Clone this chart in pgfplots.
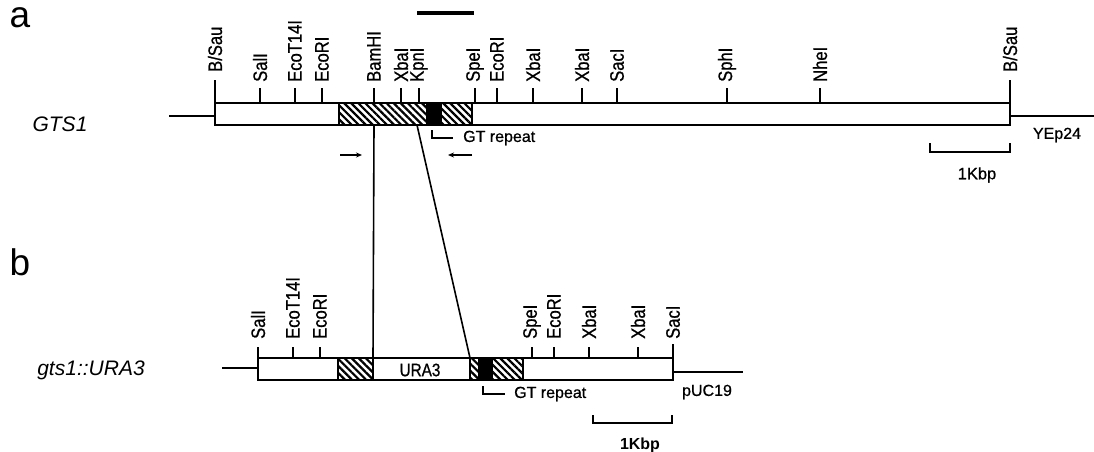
\documentclass[border=0pt]{standalone}
\usepackage{pgfplots}
\pgfplotsset{compat=1.18}
\usetikzlibrary{patterns.meta,arrows.meta}
\usepackage{fontspec}
\setmainfont{Liberation Sans}
\newfontfamily\cond[FakeStretch=0.85,FakeBold=0.8]{Liberation Sans}
\newfontfamily\med[FakeBold=0.7]{Liberation Sans}
\newcommand\sz[1]{\fontsize{#1}{#1}\selectfont}
\tikzset{
  site/.style={rotate=90,anchor=west,inner sep=0pt,font=\cond\sz{19.5}},
  hatch/.style={draw=black,line width=1.7pt,pattern={Lines[angle=-45,distance=5pt,line width=2.2pt]}},
}
\newcommand\site[3]{\node[site] at (axis cs:#1,#2) {#3};}
\begin{document}
\begin{tikzpicture}
\begin{axis}[width=1094pt,height=452pt,scale only axis,
  xmin=0,xmax=1094,ymin=0,ymax=452,y dir=reverse,hide axis,clip=false,
  unbounded coords=jump]
% ---------------- map a ----------------
\addplot[black,line width=1.7pt] coordinates {(169,116) (215,116)};
\addplot[black,line width=1.7pt] coordinates {(1010,116) (1094,116)};
\addplot[draw=black,fill=white,line width=1.7pt] coordinates {(215,103) (1010,103) (1010,125) (215,125)} -- cycle;
\addplot[hatch] coordinates {(339,103) (427,103) (427,125) (339,125)} -- cycle;
\addplot[draw=black,fill=black,line width=1.7pt] coordinates {(427,103) (441,103) (441,125) (427,125)} -- cycle;
\addplot[hatch] coordinates {(441,103) (472,103) (472,125) (441,125)} -- cycle;
\addplot[black,line width=2.2pt] coordinates {
 (260,88) (260,103) (0,nan) (295,88) (295,103) (0,nan) (322,88) (322,103) (0,nan)
 (374,88) (374,103) (0,nan) (401,88) (401,103) (0,nan) (419,88) (419,103) (0,nan)
 (475,88) (475,103) (0,nan) (497,88) (497,103) (0,nan) (533,88) (533,103) (0,nan)
 (582,88) (582,103) (0,nan) (617,88) (617,103) (0,nan) (727,88) (727,103) (0,nan)
 (820,88) (820,103) (0,nan) (215,80) (215,103) (0,nan) (1010,80) (1010,103)};
\site{215}{72}{B/Sau}
\site{260}{82}{SalI}
\site{295}{82}{EcoT14I}
\site{322}{82}{EcoRI}
\site{374}{82}{BamHI}
\site{401}{82}{XbaI}
\site{419}{82}{KpnI}
\site{475}{82}{SpeI}
\site{497}{82}{EcoRI}
\site{533}{82}{XbaI}
\site{582}{82}{XbaI}
\site{617}{82}{SacI}
\site{727}{82}{SphI}
\site{820}{82}{NheI}
\site{1010}{72}{B/Sau}
% bar above
\addplot[black,line width=4.5pt] coordinates {(417,13) (474,13)};
% GT repeat bracket
\addplot[black,line width=1.4pt] coordinates {(432,130) (432,138) (453,138)};
\node[anchor=west,inner sep=0pt,font=\med\sz{16}] at (axis cs:463,138) {GT repeat};
% primer arrows
\addplot[black,line width=1.3pt,-{Stealth[length=6pt,width=5pt]}] coordinates {(340,155) (362,155)};
\addplot[black,line width=1.3pt,-{Stealth[length=6pt,width=5pt]}] coordinates {(472,155) (448,155)};
% scale bar a
\addplot[black,line width=1.6pt] coordinates {(930,143) (930,152) (1010,152) (1010,143)};
\node[font=\med\sz{16.5}] at (axis cs:977,175) {1Kbp};
\node[font=\med\sz{16}] at (axis cs:1057,135) {YEp24};
\node[font=\itshape\sz{21}] at (axis cs:60,124) {GTS1};
\node[font=\sz{37}] at (axis cs:20,18) {a};
\node[font=\sz{37}] at (axis cs:20,262) {b};
% connectors
\addplot[black,line width=1.6pt] coordinates {(374,125) (373,358)};
\addplot[black,line width=1.6pt] coordinates {(417,125) (470,358)};
% ---------------- map b ----------------
\addplot[black,line width=1.7pt] coordinates {(222,368) (258,368)};
\addplot[black,line width=1.7pt] coordinates {(673,372) (743,372)};
\addplot[draw=black,fill=white,line width=1.7pt] coordinates {(258,358) (673,358) (673,380) (258,380)} -- cycle;
\addplot[hatch] coordinates {(338,358) (373,358) (373,380) (338,380)} -- cycle;
\addplot[draw=black,line width=1.7pt] coordinates {(373,358) (470,358) (470,380) (373,380)} -- cycle;
\addplot[hatch] coordinates {(470,358) (479,358) (479,380) (470,380)} -- cycle;
\addplot[draw=black,fill=black,line width=1.7pt] coordinates {(479,358) (492,358) (492,380) (479,380)} -- cycle;
\addplot[hatch] coordinates {(492,358) (523,358) (523,380) (492,380)} -- cycle;
\addplot[black,line width=2.2pt] coordinates {
 (258,347) (258,358) (0,nan) (293,347) (293,358) (0,nan) (320,347) (320,358) (0,nan)
 (532,347) (532,358) (0,nan) (554,347) (554,358) (0,nan) (589,347) (589,358) (0,nan)
 (638,347) (638,358) (0,nan) (673,344) (673,358)};
\site{258}{339}{SalI}
\site{293}{339}{EcoT14I}
\site{320}{339}{EcoRI}
\site{532}{339}{SpeI}
\site{554}{339}{EcoRI}
\site{589}{339}{XbaI}
\site{638}{339}{XbaI}
\site{673}{339}{SacI}
\node[font=\cond\sz{18}] at (axis cs:420,370) {URA3};
\addplot[black,line width=1.4pt] coordinates {(483,386) (483,394) (505,394)};
\node[anchor=west,inner sep=0pt,font=\med\sz{16}] at (axis cs:514,394) {GT repeat};
\node[font=\med\sz{16}] at (axis cs:707,392) {pUC19};
\addplot[black,line width=1.6pt] coordinates {(593,415) (593,423) (672,423) (672,415)};
\node[font=\bfseries\sz{16}] at (axis cs:640,445) {1Kbp};
\node[font=\itshape\sz{21}] at (axis cs:91,370) {gts1::URA3};
\end{axis}
\pgfresetboundingbox
\useasboundingbox (current axis.south west) rectangle (current axis.north east);
\end{tikzpicture}
\end{document}
